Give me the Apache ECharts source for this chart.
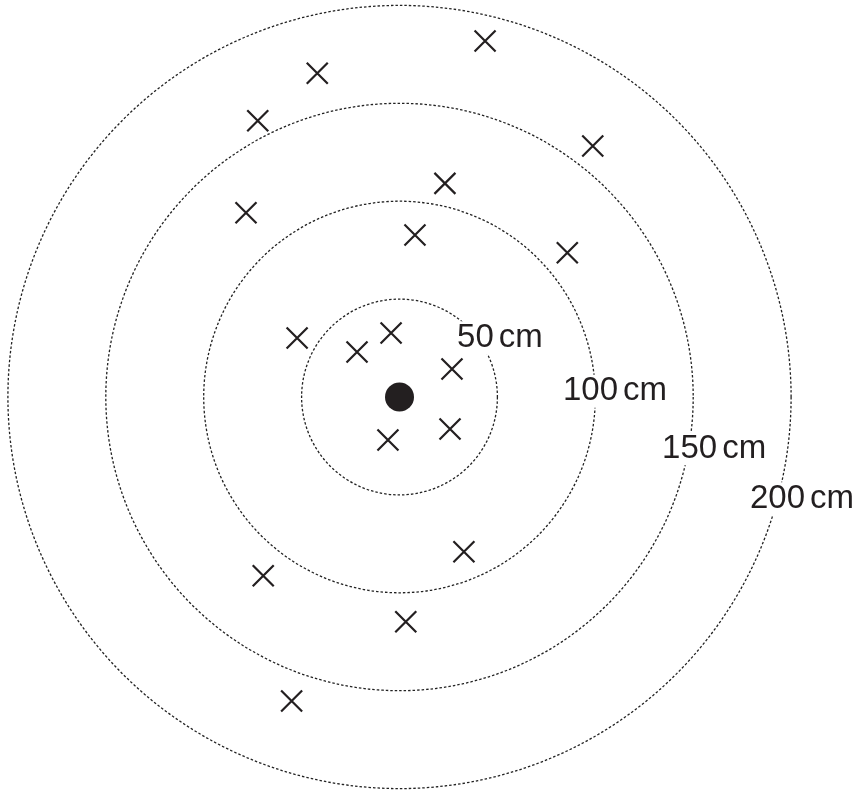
<!DOCTYPE html>
<html>
<head>
<meta charset="utf-8">
<script src="https://cdn.jsdelivr.net/npm/echarts@6/dist/echarts.min.js"></script>
<style>
html,body{margin:0;padding:0;background:#fff;}
#chart{width:859px;height:793px;}
</style>
</head>
<body>
<div id="chart"></div>
<script>
// Ring radii (cm) and their labels
const ringRadii = [50, 100, 150, 200];
const ringNumbers = ['50', '100', '150', '200'];
const ringUnit = 'cm';
// Hit positions (cm) relative to target centre: x, y
const hitX = [43.7, -42.0, -72.4, 98.7, 23.2, -78.4, 7.9, 85.7, -52.3, -4.3, -21.7, 26.8, -5.9, 25.8, 32.9, -69.6, 3.2, -55.1];
const hitY = [181.8, 165.3, 141.1, 128.2, 109.1, 94.1, 82.7, 73.7, 30.1, 32.7, 23.0, 14.3, -22.0, -16.3, -79.0, -91.3, -114.8, -155.3];
// Target centre (cm)
const centre = [[0, 0]];

// layout: label anchor points (cm), left-aligned
const labelAnchors = [[28.9, 30.2], [83.0, 2.9], [133.6, -26.4], [178.5, -52.0]];

const ink = '#231f20';
const hits = hitX.map((x, i) => [x, hitY[i]]);

const chart = echarts.init(document.getElementById('chart'));
chart.setOption({
  animation: false,
  backgroundColor: '#fff',
  grid: {left: 0, top: 0, width: 859, height: 793},
  xAxis: {type: 'value', min: -204.04, max: 234.68, show: false},
  yAxis: {type: 'value', min: -202.25, max: 202.76, show: false},
  series: [
    {
      type: 'custom',
      data: ringRadii.map(r => [r]),
      renderItem: function (params, api) {
        const r = api.value(0);
        const c = api.coord([0, 0]);
        const e = api.coord([r, 0]);
        return {
          type: 'circle',
          shape: {cx: c[0], cy: c[1], r: e[0] - c[0]},
          style: {fill: 'none', stroke: '#222', lineWidth: 1.3, lineDash: [2.5, 2]}
        };
      },
      silent: true
    },
    {
      type: 'scatter',
      data: hits,
      symbol: 'path://M0,0L10,10M10,0L0,10',
      symbolSize: 21,
      itemStyle: {color: 'transparent', borderColor: ink, borderWidth: 2.2, opacity: 1},
      silent: true
    },
    {
      type: 'scatter',
      data: centre,
      symbol: 'circle',
      symbolSize: 29,
      itemStyle: {color: ink, opacity: 1},
      silent: true
    },
    {
      type: 'scatter',
      data: labelAnchors.map((p, i) => ({value: p, name: ringNumbers[i]})),
      symbolSize: 0,
      itemStyle: {opacity: 1},
      z: 5,
      label: {
        show: true,
        position: 'right',
        distance: 0,
        formatter: p => '{n|' + p.name + '}{u|' + ringUnit + '}',
        opacity: 1,
        backgroundColor: '#fff',
        padding: [0, 1, 0, 1],
        rich: {
          n: {color: ink, fontSize: 33, fontFamily: 'Liberation Sans, Arial, sans-serif'},
          u: {color: ink, fontSize: 33, fontFamily: 'Liberation Sans, Arial, sans-serif', padding: [0, 0, 0, 5]}
        }
      },
      silent: true
    }
  ]
});
</script>
</body>
</html>
